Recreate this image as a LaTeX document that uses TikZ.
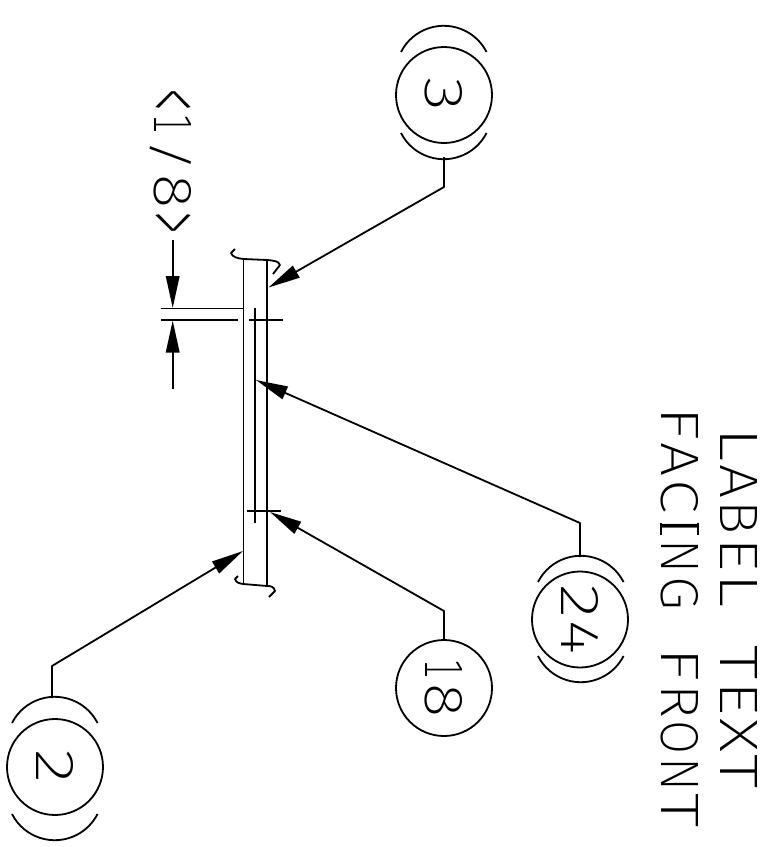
\documentclass[tikz,border=0pt]{standalone}
\usepackage{fontspec}
\usepackage{graphicx}
\usetikzlibrary{arrows.meta}
\newfontfamily\strokefont{Fira Sans ExtraLight}
\newfontfamily\onefont{DejaVu Sans ExtraLight}
\newdimen\glw
\newcommand{\gl}[2]{\glw=#1pt\advance\glw by 9pt\makebox[\dimexpr#1pt+11.5pt\relax]{\resizebox{\glw}{37pt}{#2}}}
\newcommand{\gsp}{\hspace{35pt}}
\newcommand{\lowgl}[1]{\raisebox{-.24\height}[.76\height][0pt]{#1}}
\tikzset{
  every path/.style={line width=1.8pt,line join=round},
  lbl/.style={inner sep=0pt,outer sep=0pt,rotate=-90,anchor=base west,font=\strokefont},
  balloon/.style={draw,circle,minimum size=96pt,inner sep=0pt,outer sep=0pt,rotate=-90,font=\strokefont},
  tip/.style={-{Triangle[length=32pt,width=13.5pt]}}
}
\begin{document}
\begin{tikzpicture}[x=1pt,y=-1pt]
\useasboundingbox (0,0) rectangle (784,847);
% balloons
\node[balloon] (b3) at (444,95) {\gl{25}{3}};
\node[balloon] (b18) at (444,688) {\gl{13}{\onefont 1}\gl{25}{8}\hspace{19pt}};
\node[balloon] (b24) at (580,619.5) {\gl{25}{2}\gl{25}{4}};
\node[balloon] (b2) at (55,767) {\gl{25}{2}};
% double arcs
\draw (401,52) arc[start angle=153,end angle=27,radius=48pt];
\draw (401,133) arc[start angle=207,end angle=333,radius=48pt];
\draw (538,582) arc[start angle=153,end angle=27,radius=48pt];
\draw (538,656) arc[start angle=207,end angle=333,radius=48pt];
\draw (12,723) arc[start angle=153,end angle=27,radius=48pt];
\draw (12,814) arc[start angle=207,end angle=333,radius=48pt];
% panel
\coordinate (pTL) at (243.5,259);
\coordinate (pTR) at (267,260);
\coordinate (pBL) at (243.5,584);
\coordinate (pBR) at (267,586);
\draw (pTL) -- (pBL);
\draw (pTR) -- (pBR);
\draw (235,249) -- (231,253) .. controls (232,257) and (238,258.5) .. (pTL) -- (pTR)
  .. controls (273,260.5) and (279,261) .. (280,265) -- (273,274);
\draw (238,576) -- (235,579) .. controls (236,583) and (240,583.5) .. (pBL) -- (pBR)
  .. controls (271,586) and (274,586.5) .. (275,591) -- (269,597);
% inner line and cross ticks
\coordinate (inT) at (255,308);
\coordinate (inB) at (255,523);
\draw (inT) -- (inB);
\coordinate (c1a) at (249,320); \coordinate (c1b) at (283,320);
\coordinate (c2a) at (247,511); \coordinate (c2b) at (281,511);
\draw (c1a) -- (c1b);
\draw (c2a) -- (c2b);
% dimension
\coordinate (e1a) at (161,308.5); \coordinate (e1b) at (243.5,308.5);
\coordinate (e2a) at (161,320); \coordinate (e2b) at (238,320);
\draw (e1a) -- (e1b);
\draw (e2a) -- (e2b);
\coordinate (d1s) at (172.7,240); \coordinate (d1t) at (172.7,308);
\coordinate (d2s) at (172.7,389); \coordinate (d2t) at (172.7,320.5);
\draw[tip] (d1s) -- (d1t);
\draw[tip] (d2s) -- (d2t);
% leaders
\coordinate (l3s) at (444,157); \coordinate (l3c) at (444,187); \coordinate (l3t) at (268.5,287.5);
\coordinate (l24s) at (580,557); \coordinate (l24c) at (580,523); \coordinate (l24t) at (256,380);
\coordinate (l18s) at (444,640); \coordinate (l18c) at (444,611); \coordinate (l18t) at (270,512);
\coordinate (l2s) at (52,698); \coordinate (l2c) at (52,666); \coordinate (l2t) at (243,551);
\draw[tip] (l3s) -- (l3c) -- (l3t);
\draw[tip] (l24s) -- (l24c) -- (l24t);
\draw[tip] (l18s) -- (l18c) -- (l18t);
\draw[tip] (l2s) -- (l2c) -- (l2t);
% texts
\node[lbl] (dimtext) at (154,87) {\gl{14}{\lowgl{<}}\gl{13}{\onefont 1}\gl{25}{/}\gl{25}{8}\gl{14}{\lowgl{>}}};
\node[lbl] (l1) at (720,426.5) {\gl{25}{L}\gl{25}{A}\gl{25}{B}\gl{25}{E}\gl{25}{L}\gsp\gl{25}{T}\gl{25}{E}\gl{25}{X}\gl{25}{T}};
\node[lbl] (l2) at (661,405) {\gl{25}{F}\gl{25}{A}\gl{25}{C}\gl{12.5}{I}\gl{25}{N}\gl{25}{G}\gsp\gl{25}{F}\gl{25}{R}\gl{25}{O}\gl{25}{N}\gl{25}{T}};
% serifs of the stroke-font I
\draw (661,522.7) -- (661,535);
\draw (698,522.7) -- (698,535);
\end{tikzpicture}
\end{document}
